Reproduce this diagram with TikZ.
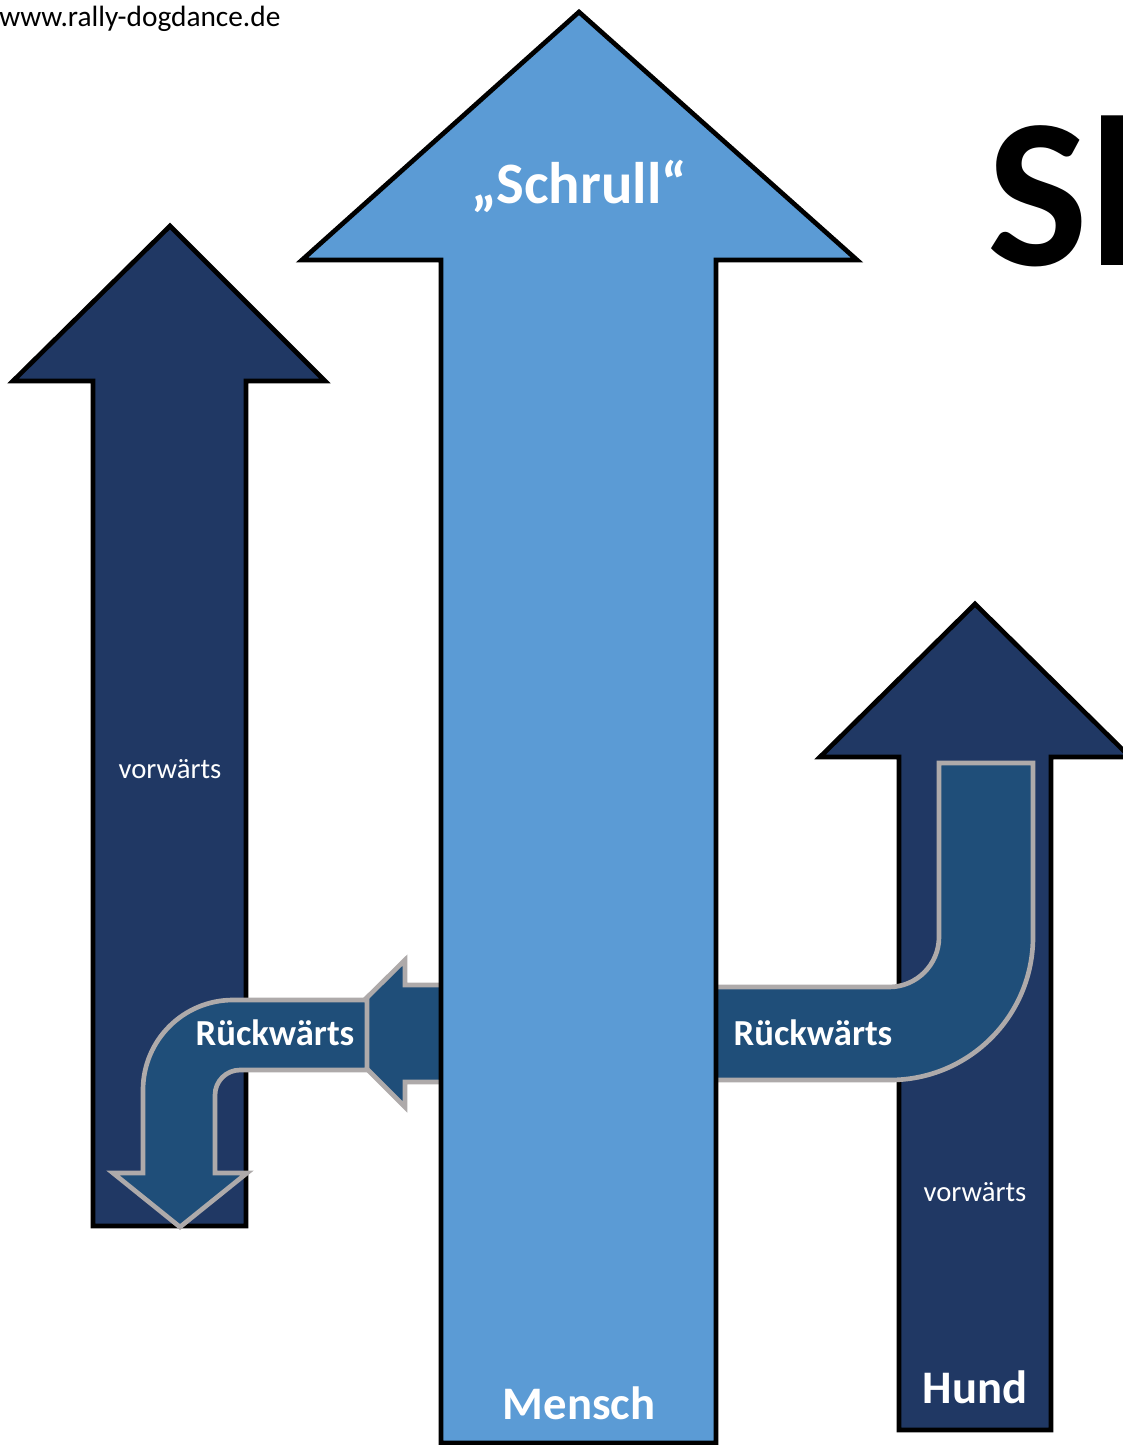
\documentclass[tikz,border=0pt]{standalone}
\usepackage{fontspec}
\setmainfont{Carlito}
\definecolor{mensch}{HTML}{5B9BD5}
\definecolor{hund}{HTML}{203864}
\definecolor{turn}{HTML}{1F4E79}
\definecolor{rim}{HTML}{AEAAAA}
\tikzset{
  menscharrow/.style={draw=black,line width=3.5pt,fill=mensch,line join=miter},
  hundarrow/.style={draw=black,line width=3.5pt,fill=hund,line join=miter},
  turnarrow/.style={draw=rim,line width=3.5pt,fill=turn,line join=miter},
  bigtext/.style={inner sep=0pt,anchor=base,text=white,font=\bfseries\fontsize{35}{40}\selectfont},
  headtext/.style={bigtext,font=\bfseries\fontsize{44}{48}\selectfont},
  turntext/.style={inner sep=0pt,anchor=base,text=white,font=\bfseries\fontsize{27.5}{32}\selectfont},
  walktext/.style={inner sep=0pt,anchor=base,text=white,font=\fontsize{21.5}{26}\selectfont},
}
\begin{document}
\begin{tikzpicture}[x=0.75pt,y=-0.75pt]
\useasboundingbox (0,0) rectangle (1122,1445);
% Hund links
\draw[hundarrow] (93,1226) -- (93,381) -- (13,381) -- (170,226) -- (325,381) -- (246,381) -- (246,1226) -- cycle;
% Hund rechts
\draw[hundarrow] (899,1430) -- (899,757) -- (820,757) -- (975,604) -- (1130,757) -- (1051,757) -- (1051,1430) -- cycle;
% Rueckwaerts links
\draw[turnarrow] (460,985) -- (405,985) -- (405,960) -- (331,1033) -- (405,1107) -- (405,1082) -- (460,1082) -- cycle;
\draw[turnarrow] (367,1000) -- (233,1000) .. controls (183.3,1000) and (143,1040.3) .. (143,1090)
  -- (143,1173) -- (113,1173) -- (180,1227) -- (247,1173) -- (215,1173) -- (215,1095)
  .. controls (215,1081.2) and (226.2,1070) .. (240,1070) -- (367,1070) -- cycle;
% Rueckwaerts rechts
\draw[turnarrow] (939,763) -- (1033,763) -- (1033,937) .. controls (1033,1016) and (969,1080) .. (890,1080)
  -- (700,1080) -- (700,987) -- (889,987) .. controls (916.6,987) and (939,964.6) .. (939,937) -- cycle;
% Mensch
\draw[menscharrow] (441,1443) -- (441,260) -- (302,260) -- (579,12) -- (857,260) -- (716,260) -- (716,1443) -- cycle;

\node[headtext] (schrull) at (579,203) {„Schrull“};
\node[bigtext] (mensch) at (579,1419) {Mensch};
\node[bigtext] (hund) at (975,1403) {Hund};
\node[turntext] (rueckl) at (275,1045) {Rückwärts};
\node[turntext] (rueckr) at (813,1045) {Rückwärts};
\node[walktext] (vorl) at (170,778) {vorwärts};
\node[walktext] (vorr) at (975,1201) {vorwärts};
\node[inner sep=0pt,anchor=base west,font=\fontsize{22}{26}\selectfont] (url) at (-1,27) {www.rally-dogdance.de};
\node[inner sep=0pt,anchor=base west,font=\bfseries\fontsize{160}{160}\selectfont] (title) at (987,265) {Sl};
\end{tikzpicture}
\end{document}
